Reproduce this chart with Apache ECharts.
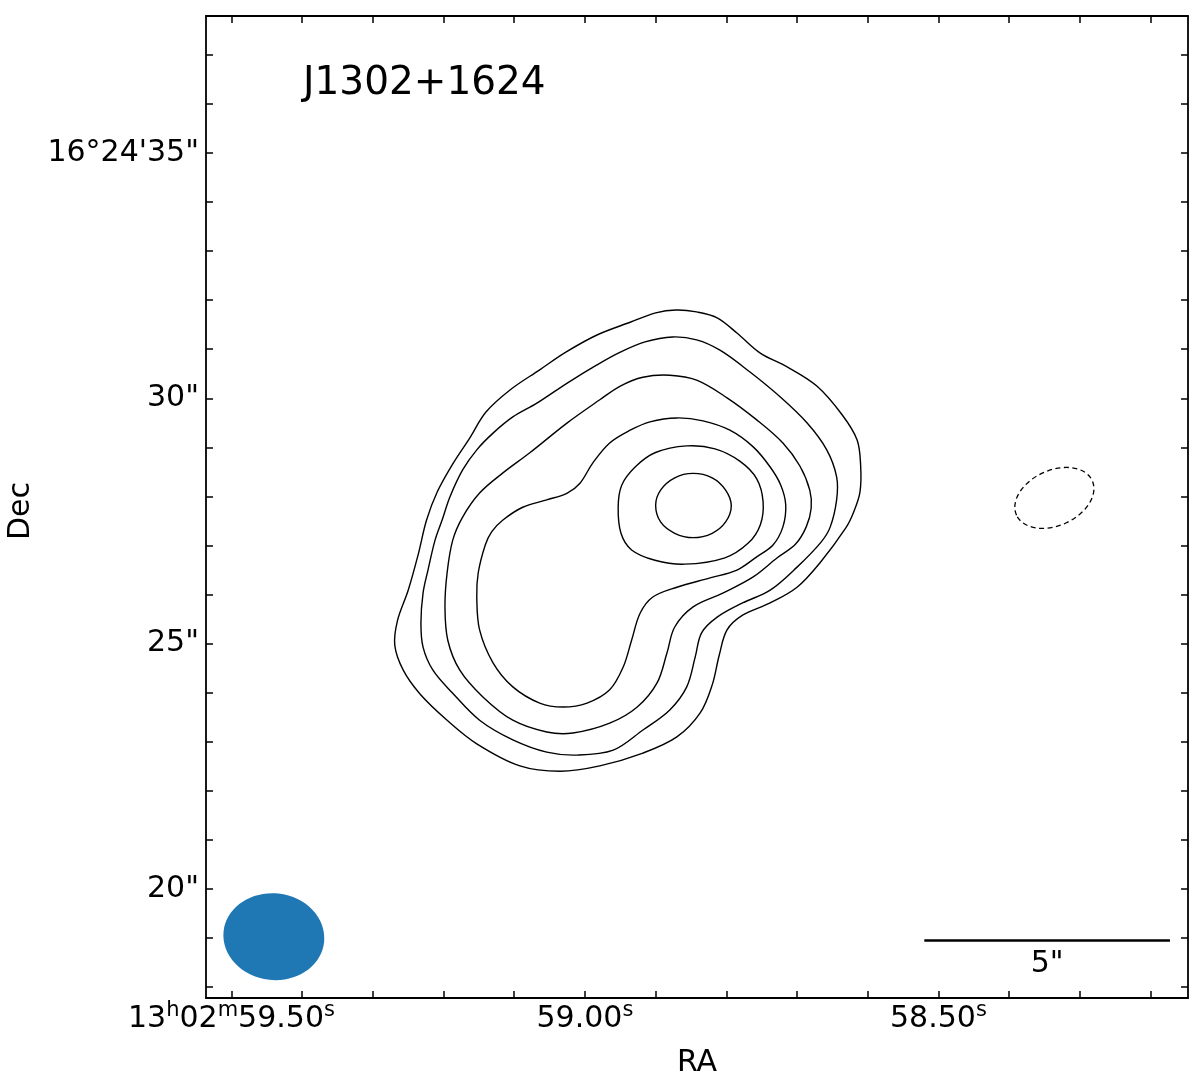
<!DOCTYPE html>
<html><head><meta charset="utf-8">
<script src="https://cdn.jsdelivr.net/npm/echarts@6/dist/echarts.min.js"></script>
<style>html,body{margin:0;padding:0;background:#fff}#c{width:1200px;height:1079px}</style>
</head><body><div id="c"></div>
<script>
const FONT = 'DejaVu Sans';
const TITLE = 'J1302+1624';
const X_NAME = 'RA';
const Y_NAME = 'Dec';
// RA in seconds (13h02m..s), Dec in arcsec (16°24'..")
const RA_RANGE = [58.147, 59.536];
const DEC_RANGE = [17.78, 37.79];
const RA_MAJOR = [59.5, 59.0, 58.5];
const RA_LABELS = ['{n|13}{s|h}{n|02}{s|m}{n|59.50}{s|s}', '{n|59.00}{s|s}', '{n|58.50}{s|s}'];
const RA_MINOR = [59.5, 59.4, 59.3, 59.2, 59.1, 59.0, 58.9, 58.8, 58.7, 58.6, 58.5, 58.4, 58.3, 58.2];
const DEC_MAJOR = [20, 25, 30, 35];
const DEC_LABELS = ['20"', '25"', '30"', '16°24\'35"'];
const DEC_MINOR = [18, 19, 20, 21, 22, 23, 24, 25, 26, 27, 28, 29, 30, 31, 32, 33, 34, 35, 36, 37];

const LEVEL1 = [[58.871,31.80],[58.842,31.76],[58.813,31.64],[58.785,31.33],[58.752,30.92],[58.714,30.64],[58.672,30.25],[58.636,29.66],[58.615,29.15],[58.610,28.62],[58.611,28.09],[58.620,27.68],[58.631,27.36],[58.668,26.64],[58.700,26.15],[58.738,25.83],[58.777,25.58],[58.799,25.28],[58.810,24.77],[58.820,24.16],[58.837,23.59],[58.870,23.10],[58.918,22.77],[58.979,22.51],[59.035,22.40],[59.092,22.51],[59.153,22.96],[59.195,23.44],[59.233,23.97],[59.257,24.46],[59.269,24.97],[59.265,25.48],[59.250,26.09],[59.236,26.81],[59.224,27.52],[59.209,28.09],[59.188,28.64],[59.163,29.19],[59.140,29.72],[59.106,30.17],[59.064,30.58],[59.027,30.94],[58.983,31.29],[58.936,31.55],[58.900,31.74]];
const LEVEL2 = [[58.876,31.25],[58.842,31.19],[58.809,30.98],[58.767,30.54],[58.724,30.03],[58.686,29.50],[58.658,28.95],[58.644,28.40],[58.644,27.93],[58.653,27.38],[58.666,27.07],[58.700,26.56],[58.738,26.09],[58.777,25.83],[58.813,25.54],[58.835,25.22],[58.844,24.73],[58.856,24.12],[58.880,23.65],[58.918,23.24],[58.960,22.83],[59.011,22.73],[59.054,22.79],[59.102,23.04],[59.149,23.44],[59.187,23.99],[59.215,24.46],[59.229,24.93],[59.232,25.42],[59.229,26.03],[59.222,26.50],[59.212,27.11],[59.202,27.52],[59.191,27.99],[59.173,28.54],[59.153,28.95],[59.130,29.29],[59.102,29.62],[59.068,29.90],[59.025,30.31],[58.983,30.68],[58.950,30.94],[58.915,31.15]];
const LEVEL3 = [[58.880,30.47],[58.842,30.37],[58.799,30.01],[58.757,29.56],[58.720,29.09],[58.696,28.62],[58.682,28.13],[58.680,27.76],[58.687,27.38],[58.702,27.03],[58.728,26.75],[58.762,26.36],[58.805,26.03],[58.847,25.75],[58.873,25.34],[58.884,24.81],[58.898,24.20],[58.926,23.71],[58.965,23.38],[59.017,23.18],[59.054,23.20],[59.102,23.44],[59.144,23.91],[59.177,24.46],[59.194,25.07],[59.198,25.75],[59.195,26.44],[59.187,27.11],[59.173,27.58],[59.149,28.07],[59.116,28.48],[59.078,28.89],[59.025,29.50],[58.979,29.97],[58.950,30.25],[58.918,30.43]];
const LEVEL4 = [[58.870,29.60],[58.833,29.54],[58.795,29.35],[58.762,29.01],[58.738,28.60],[58.723,28.23],[58.716,27.83],[58.720,27.38],[58.734,27.01],[58.757,26.77],[58.785,26.50],[58.823,26.34],[58.870,26.15],[58.904,25.95],[58.922,25.62],[58.934,25.07],[58.946,24.52],[58.965,24.06],[58.997,23.79],[59.031,23.71],[59.064,23.79],[59.102,24.12],[59.130,24.61],[59.149,25.28],[59.153,25.95],[59.151,26.44],[59.141,27.01],[59.132,27.28],[59.116,27.52],[59.088,27.78],[59.054,27.93],[59.025,28.07],[59.007,28.27],[58.989,28.68],[58.965,29.09],[58.936,29.35],[58.908,29.52]];
const LEVEL5 = [[58.856,29.03],[58.816,28.97],[58.781,28.72],[58.757,28.36],[58.748,27.89],[58.752,27.42],[58.769,27.05],[58.802,26.75],[58.859,26.62],[58.901,26.70],[58.934,26.91],[58.949,27.25],[58.953,27.78],[58.948,28.23],[58.929,28.60],[58.901,28.89]];
const LEVEL6 = [[58.847,28.47],[58.820,28.38],[58.801,28.13],[58.793,27.81],[58.801,27.48],[58.820,27.25],[58.847,27.16],[58.873,27.25],[58.893,27.48],[58.900,27.82],[58.893,28.13],[58.873,28.38]];
const CONTOURS = [LEVEL1, LEVEL2, LEVEL3, LEVEL4, LEVEL5, LEVEL6];

// [ra, dec, semi-major ("), semi-minor ("), angle (deg, CCW from east-on-screen)]
const NEG_CONTOUR = [58.336, 27.97, 0.848, 0.562, 24.6];
const BEAM = [59.440, 19.03, 1.03, 0.885, -6];
const SCALEBAR_RA = [58.520, 58.1725];
const SCALEBAR_DEC = 18.95;
const SCALEBAR_LABEL = '5"';

const chart = echarts.init(document.getElementById('c'), null, {renderer: 'canvas'});

function near(a, b) { return Math.abs(a - b) < 1e-6; }
const axisLineStyle = {color: '#000', width: 1.8};
const tickStyle = {color: '#000', width: 1.5};

function ellipseRender(e, style) {
  return function (params, api) {
    const c = api.coord([e[0], e[1]]);
    const rx = api.size([0, e[2]])[1];
    const ry = api.size([0, e[3]])[1];
    return {
      type: 'ellipse', x: c[0], y: c[1], rotation: e[4] * Math.PI / 180,
      shape: {cx: 0, cy: 0, rx: rx, ry: ry}, style: style, silent: true
    };
  };
}

const option = {
  backgroundColor: '#fff',
  animation: false,
  title: {
    text: TITLE, left: 303, top: 64, padding: 0,
    textStyle: {fontFamily: FONT, fontSize: 39, fontWeight: 'normal', color: '#000'}
  },
  grid: {left: 206, top: 16, width: 982, height: 982, containLabel: false, outerBoundsMode: 'none'},
  xAxis: [{
    type: 'value', position: 'bottom', inverse: true, min: RA_RANGE[0], max: RA_RANGE[1],
    name: X_NAME, nameLocation: 'middle', nameGap: 50,
    nameTextStyle: {fontFamily: FONT, fontSize: 30, color: '#000'},
    axisLine: {show: true, onZero: false, lineStyle: axisLineStyle},
    axisTick: {show: true, inside: true, length: 7, customValues: RA_MINOR, lineStyle: tickStyle},
    axisLabel: {
      customValues: RA_MAJOR, margin: 2, color: '#000', fontFamily: FONT, fontSize: 30,
      formatter: function (v) { for (let i = 0; i < RA_MAJOR.length; i++) if (near(v, RA_MAJOR[i])) return RA_LABELS[i]; return ''; },
      rich: {
        n: {fontFamily: FONT, fontSize: 30, color: '#000', lineHeight: 34, verticalAlign: 'bottom'},
        s: {fontFamily: FONT, fontSize: 21, color: '#000', lineHeight: 18, verticalAlign: 'top'}
      }
    },
    splitLine: {show: false}
  }, {
    type: 'value', position: 'top', inverse: true, min: RA_RANGE[0], max: RA_RANGE[1],
    axisLine: {show: true, onZero: false, lineStyle: axisLineStyle},
    axisTick: {show: true, inside: true, length: 7, customValues: RA_MINOR, lineStyle: tickStyle},
    axisLabel: {show: false}, splitLine: {show: false}
  }],
  yAxis: [{
    type: 'value', position: 'left', min: DEC_RANGE[0], max: DEC_RANGE[1],
    name: Y_NAME, nameLocation: 'middle', nameGap: 167,
    nameTextStyle: {fontFamily: FONT, fontSize: 30, color: '#000', padding: [0, 8, 0, 0]},
    axisLine: {show: true, onZero: false, lineStyle: axisLineStyle},
    axisTick: {show: true, inside: true, length: 7, customValues: DEC_MINOR, lineStyle: tickStyle},
    axisLabel: {
      customValues: DEC_MAJOR, margin: 7, color: '#000', fontFamily: FONT, fontSize: 30, padding: [6, 0, 0, 0],
      formatter: function (v) { for (let i = 0; i < DEC_MAJOR.length; i++) if (near(v, DEC_MAJOR[i])) return DEC_LABELS[i]; return ''; }
    },
    splitLine: {show: false}
  }, {
    type: 'value', position: 'right', min: DEC_RANGE[0], max: DEC_RANGE[1],
    axisLine: {show: true, onZero: false, lineStyle: axisLineStyle},
    axisTick: {show: true, inside: true, length: 7, customValues: DEC_MINOR, lineStyle: tickStyle},
    axisLabel: {show: false}, splitLine: {show: false}
  }],
  series: [{
    type: 'custom', name: 'contours', xAxisIndex: 0, yAxisIndex: 0,
    data: CONTOURS.map(function (c) { return c[0]; }),
    renderItem: function (params, api) {
      const pts = CONTOURS[params.dataIndex].map(function (p) { return api.coord(p); });
      return {type: 'polygon', shape: {points: pts, smooth: 0.35},
        style: {fill: 'none', stroke: '#000', lineWidth: 1.4}, silent: true};
    }
  }, {
    type: 'custom', name: 'negative', xAxisIndex: 0, yAxisIndex: 0,
    data: [[NEG_CONTOUR[0], NEG_CONTOUR[1]]],
    renderItem: ellipseRender(NEG_CONTOUR, {fill: 'none', stroke: '#000', lineWidth: 1.3, lineDash: [5, 3.5]})
  }, {
    type: 'custom', name: 'beam', xAxisIndex: 0, yAxisIndex: 0,
    data: [[BEAM[0], BEAM[1]]],
    renderItem: ellipseRender(BEAM, {fill: '#1f77b4', stroke: 'none'})
  }, {
    type: 'custom', name: 'scalebar', xAxisIndex: 0, yAxisIndex: 0,
    data: [[SCALEBAR_RA[0], SCALEBAR_DEC]],
    renderItem: function (params, api) {
      const a = api.coord([SCALEBAR_RA[0], SCALEBAR_DEC]);
      const b = api.coord([SCALEBAR_RA[1], SCALEBAR_DEC]);
      return {type: 'group', silent: true, children: [
        {type: 'line', shape: {x1: a[0], y1: a[1], x2: b[0], y2: b[1]}, style: {stroke: '#000', lineWidth: 2.5}},
        {type: 'text', x: (a[0] + b[0]) / 2, y: a[1] + 9,
          style: {text: SCALEBAR_LABEL, fontFamily: FONT, fontSize: 30, fill: '#000', align: 'center', verticalAlign: 'top'}}
      ]};
    }
  }]
};
chart.setOption(option);
</script>
</body></html>
